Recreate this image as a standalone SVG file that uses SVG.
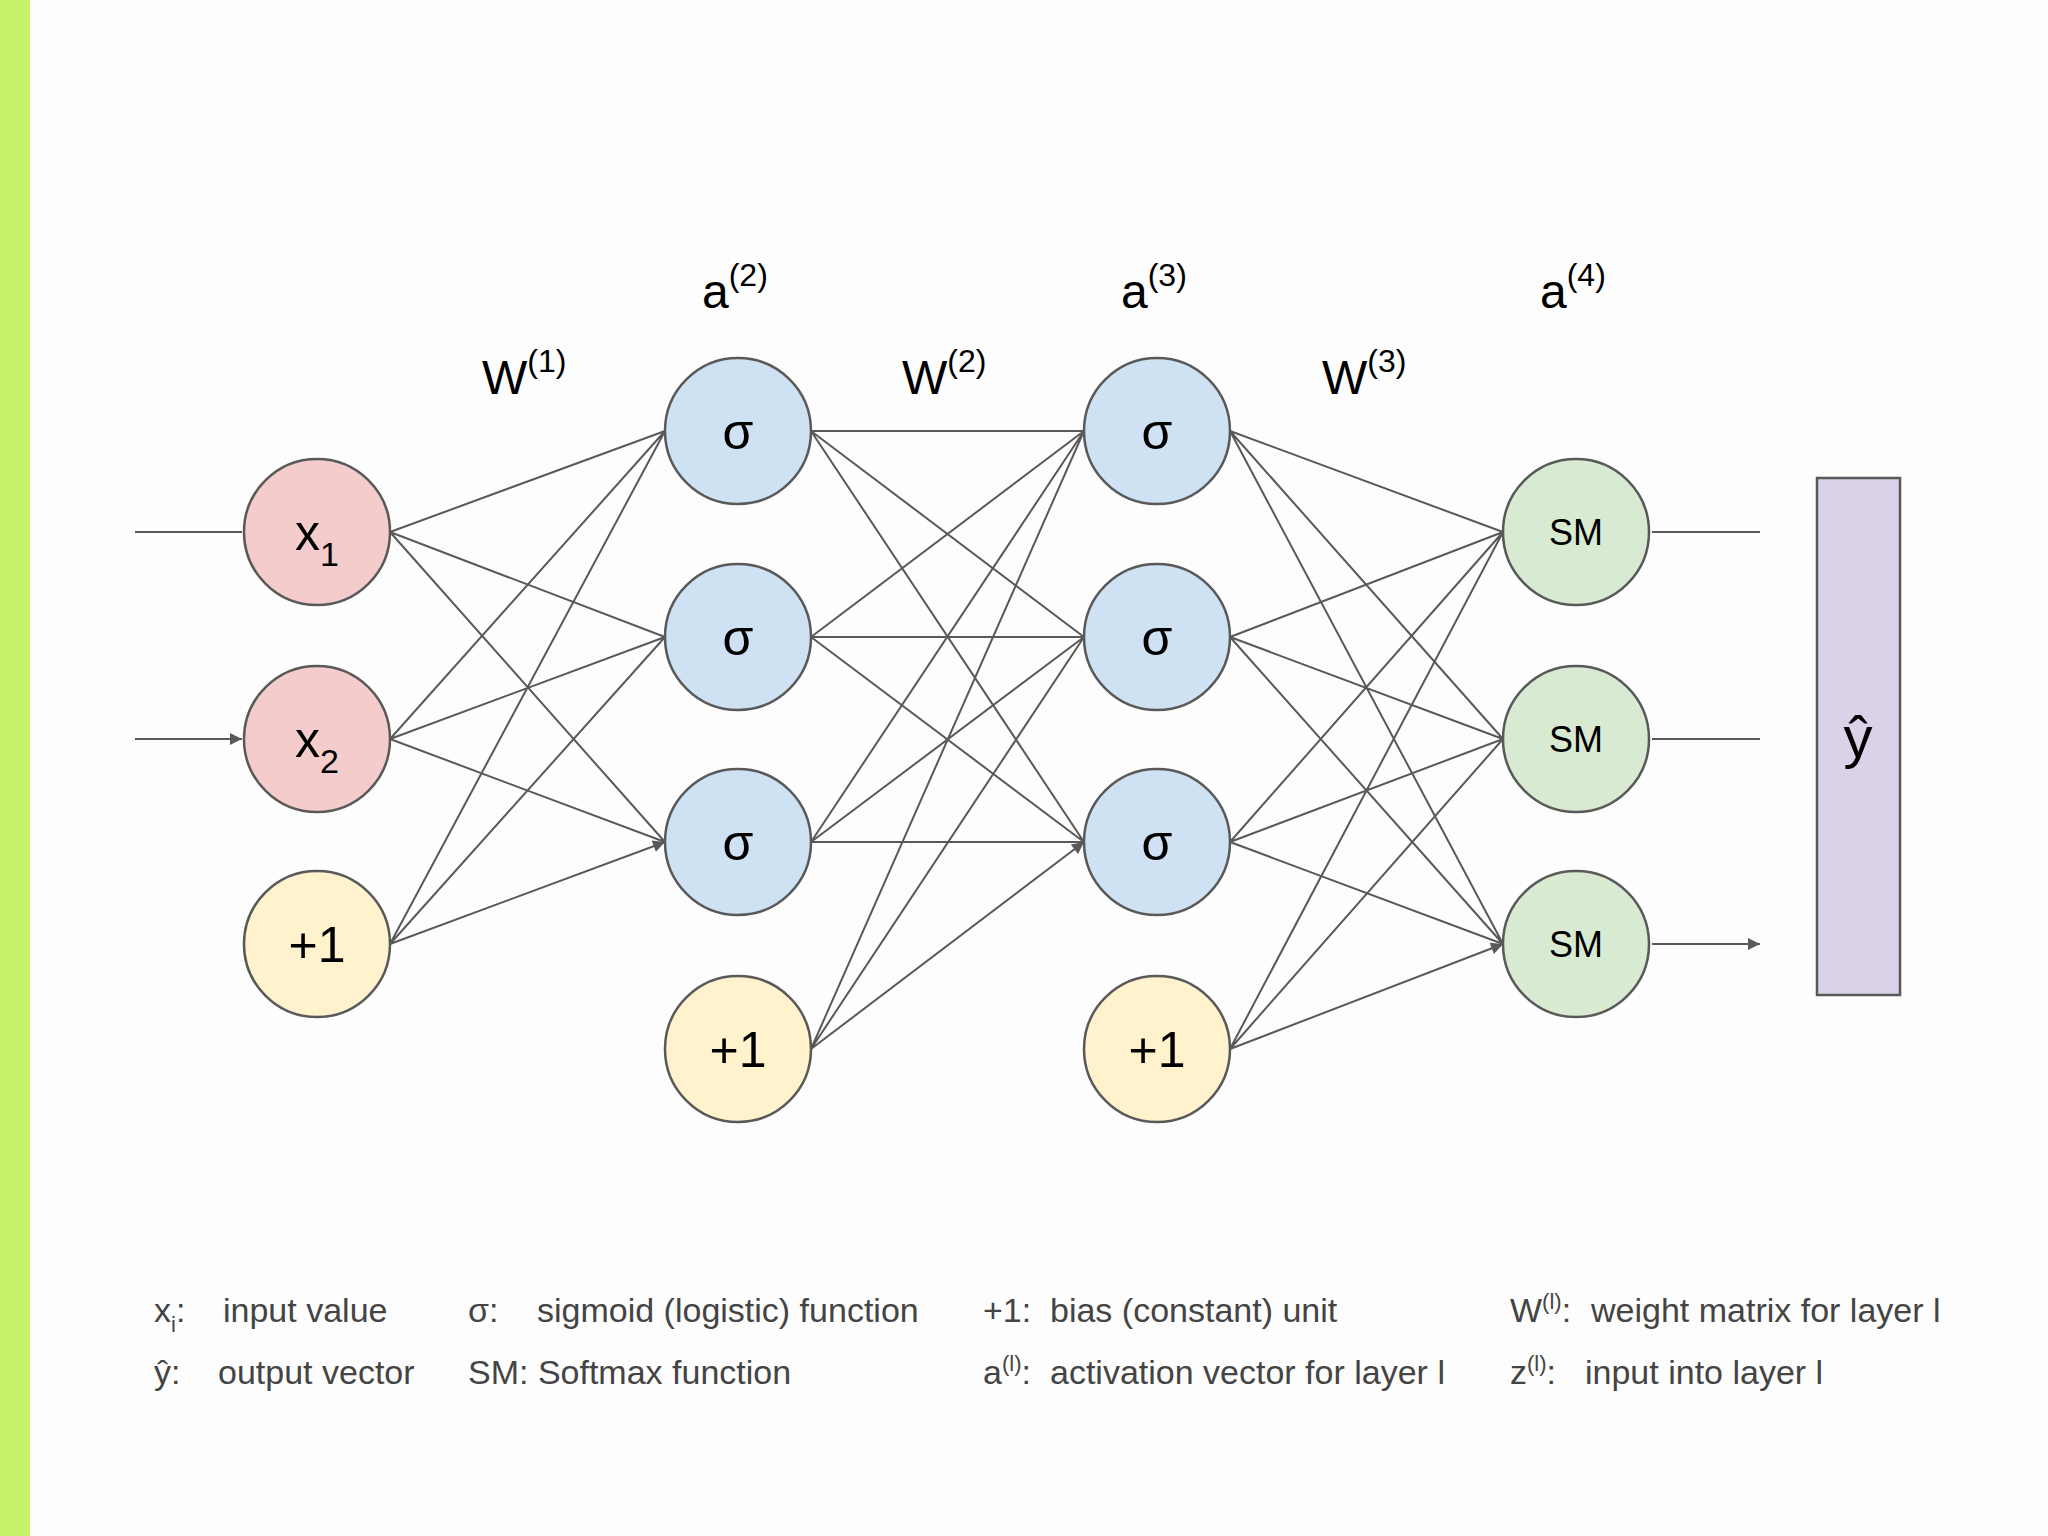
<svg xmlns="http://www.w3.org/2000/svg" width="2048" height="1536" viewBox="0 0 2048 1536">
<style>
.n{stroke:#595959;stroke-width:2.5}
.t{font-family:"Liberation Sans",Arial,sans-serif;fill:#000;text-anchor:middle}
.e{stroke:#595959;stroke-width:2;fill:none;marker-end:url(#ah)}
.l{font-family:"Liberation Sans",Arial,sans-serif;font-size:34px;fill:#444}
.h{font-family:"Liberation Sans",Arial,sans-serif;font-size:48px;fill:#000}
</style>
<defs>
<marker id="ah" viewBox="0 0 10 10" refX="10" refY="5" markerWidth="14" markerHeight="12" markerUnits="userSpaceOnUse" orient="auto"><path d="M0,0L10,5L0,10z" fill="#595959"/></marker>
</defs>
<rect width="2048" height="1536" fill="#fdfdfd"/>
<rect width="30" height="1536" fill="#c6f36a"/>
<g id="connectors">
<path class="e" d="M135,532H242M135,739H242"/>
<path class="e" d="M390,532L665,431M390,532L665,637M390,532L665,842M390,739L665,431M390,739L665,637M390,739L665,842M390,944L665,431M390,944L665,637M390,944L665,842"/>
<path class="e" d="M811,431L1084,431M811,431L1084,637M811,431L1084,842M811,637L1084,431M811,637L1084,637M811,637L1084,842M811,842L1084,431M811,842L1084,637M811,842L1084,842M811,1049L1084,431M811,1049L1084,637M811,1049L1084,842"/>
<path class="e" d="M1230,431L1503,532M1230,431L1503,739M1230,431L1503,944M1230,637L1503,532M1230,637L1503,739M1230,637L1503,944M1230,842L1503,532M1230,842L1503,739M1230,842L1503,944M1230,1049L1503,532M1230,1049L1503,739M1230,1049L1503,944"/>
<path class="e" d="M1652,532H1760M1652,739H1760M1652,944H1760"/>
</g>
<g id="x1"><circle class="n" cx="317" cy="532" r="73" fill="#f4cccc"/><text class="t" x="317" y="550" font-size="50">x<tspan font-size="34" dy="16">1</tspan></text></g>
<g id="x2"><circle class="n" cx="317" cy="739" r="73" fill="#f4cccc"/><text class="t" x="317" y="757" font-size="50">x<tspan font-size="34" dy="16">2</tspan></text></g>
<g id="b1"><circle class="n" cx="317" cy="944" r="73" fill="#fff2cc"/><text class="t" x="317" y="962" font-size="50">+1</text></g>
<g id="s21"><circle class="n" cx="738" cy="431" r="73" fill="#cfe2f3"/><text class="t" x="738" y="449" font-size="50">σ</text></g>
<g id="s22"><circle class="n" cx="738" cy="637" r="73" fill="#cfe2f3"/><text class="t" x="738" y="655" font-size="50">σ</text></g>
<g id="s23"><circle class="n" cx="738" cy="842" r="73" fill="#cfe2f3"/><text class="t" x="738" y="860" font-size="50">σ</text></g>
<g id="b2"><circle class="n" cx="738" cy="1049" r="73" fill="#fff2cc"/><text class="t" x="738" y="1067" font-size="50">+1</text></g>
<g id="s31"><circle class="n" cx="1157" cy="431" r="73" fill="#cfe2f3"/><text class="t" x="1157" y="449" font-size="50">σ</text></g>
<g id="s32"><circle class="n" cx="1157" cy="637" r="73" fill="#cfe2f3"/><text class="t" x="1157" y="655" font-size="50">σ</text></g>
<g id="s33"><circle class="n" cx="1157" cy="842" r="73" fill="#cfe2f3"/><text class="t" x="1157" y="860" font-size="50">σ</text></g>
<g id="b3"><circle class="n" cx="1157" cy="1049" r="73" fill="#fff2cc"/><text class="t" x="1157" y="1067" font-size="50">+1</text></g>
<g id="sm1"><circle class="n" cx="1576" cy="532" r="73" fill="#d9ead3"/><text class="t" x="1576" y="545" font-size="36">SM</text></g>
<g id="sm2"><circle class="n" cx="1576" cy="739" r="73" fill="#d9ead3"/><text class="t" x="1576" y="752" font-size="36">SM</text></g>
<g id="sm3"><circle class="n" cx="1576" cy="944" r="73" fill="#d9ead3"/><text class="t" x="1576" y="957" font-size="36">SM</text></g>
<g id="yhat"><rect x="1817" y="478" width="83" height="517" fill="#d9d2e9" stroke="#595959" stroke-width="2.5"/><text class="t" x="1858" y="757" font-size="58">ŷ</text></g>
<g id="labels">
<text class="h" x="702" y="308">a<tspan font-size="32" dy="-22">(2)</tspan></text>
<text class="h" x="1121" y="308">a<tspan font-size="32" dy="-22">(3)</tspan></text>
<text class="h" x="1540" y="308">a<tspan font-size="32" dy="-22">(4)</tspan></text>
<text class="h" x="482" y="394">W<tspan font-size="32" dy="-22">(1)</tspan></text>
<text class="h" x="902" y="394">W<tspan font-size="32" dy="-22">(2)</tspan></text>
<text class="h" x="1322" y="394">W<tspan font-size="32" dy="-22">(3)</tspan></text>
</g>
<g id="legend">
<text class="l" x="154" y="1322">x<tspan font-size="22" dy="10">i</tspan><tspan dy="-10">:</tspan></text>
<text class="l" x="223" y="1322">input value</text>
<text class="l" x="154" y="1384">ŷ:</text>
<text class="l" x="218" y="1384">output vector</text>
<text class="l" x="468" y="1322">σ:</text>
<text class="l" x="537" y="1322">sigmoid (logistic) function</text>
<text class="l" x="468" y="1384">SM: Softmax function</text>
<text class="l" x="983" y="1322">+1:</text>
<text class="l" x="1050" y="1322">bias (constant) unit</text>
<text class="l" x="983" y="1384">a<tspan font-size="22" dy="-13">(l)</tspan><tspan dy="13">:</tspan></text>
<text class="l" x="1050" y="1384">activation vector for layer l</text>
<text class="l" x="1510" y="1322">W<tspan font-size="22" dy="-13">(l)</tspan><tspan dy="13">:</tspan></text>
<text class="l" x="1591" y="1322">weight matrix for layer l</text>
<text class="l" x="1510" y="1384">z<tspan font-size="22" dy="-13">(l)</tspan><tspan dy="13">:</tspan></text>
<text class="l" x="1585" y="1384">input into layer l</text>
</g>
</svg>
